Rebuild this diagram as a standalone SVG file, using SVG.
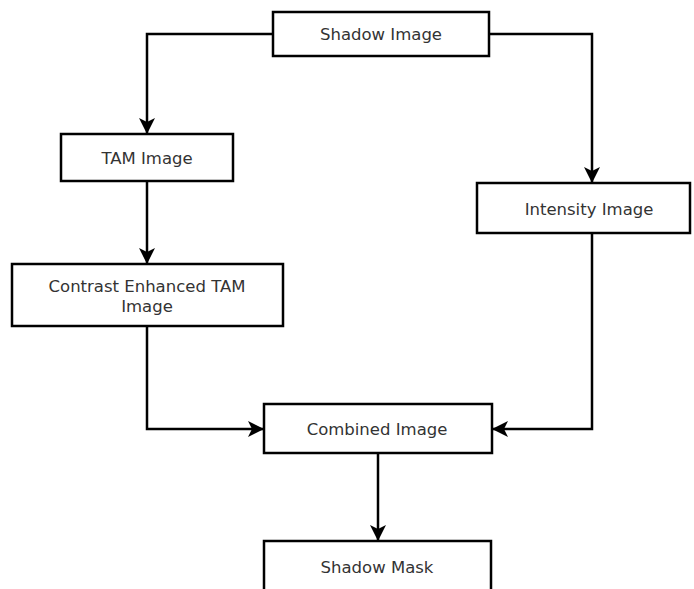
<svg xmlns="http://www.w3.org/2000/svg" width="694" height="589" viewBox="0 0 694 589">
  <defs>
    <style>
      .box { fill: #ffffff; stroke: #000000; stroke-width: 2.5; }
      .lbl { font-family: "DejaVu Sans", Verdana, sans-serif; font-size: 16.5px; fill: #333333; text-anchor: middle; }
      .conn { fill: none; stroke: #000000; stroke-width: 2.5; }
    </style>
    <marker id="arrow" markerUnits="userSpaceOnUse" markerWidth="18" markerHeight="16" refX="16" refY="8" orient="auto">
      <path d="M0,0 L16,8 L0,16 L4,8 Z" fill="#000000"/>
    </marker>
  </defs>
  <rect x="0" y="0" width="694" height="589" fill="#ffffff"/>

  <g id="connectors">
    <polyline class="conn" points="273,34 147,34 147,134" marker-end="url(#arrow)"/>
    <polyline class="conn" points="489,34 592,34 592,183" marker-end="url(#arrow)"/>
    <polyline class="conn" points="147,181 147,264" marker-end="url(#arrow)"/>
    <polyline class="conn" points="147,326 147,429 264,429" marker-end="url(#arrow)"/>
    <polyline class="conn" points="592,233 592,429 492,429" marker-end="url(#arrow)"/>
    <polyline class="conn" points="378,453 378,541" marker-end="url(#arrow)"/>
  </g>

  <g id="shadow-image">
    <rect class="box" x="273" y="12" width="216" height="44"/>
    <text class="lbl" x="381" y="40">Shadow Image</text>
  </g>
  <g id="tam-image">
    <rect class="box" x="61" y="134" width="172" height="47"/>
    <text class="lbl" x="147" y="164">TAM Image</text>
  </g>
  <g id="intensity-image">
    <rect class="box" x="477" y="183" width="213" height="50"/>
    <text class="lbl" x="589" y="215">Intensity Image</text>
  </g>
  <g id="contrast-enhanced">
    <rect class="box" x="12" y="264" width="271" height="62"/>
    <text class="lbl" x="147" y="292">Contrast Enhanced TAM</text>
    <text class="lbl" x="147" y="312">Image</text>
  </g>
  <g id="combined-image">
    <rect class="box" x="264" y="404" width="228" height="49"/>
    <text class="lbl" x="377" y="435">Combined Image</text>
  </g>
  <g id="shadow-mask">
    <rect class="box" x="264" y="541" width="227" height="60"/>
    <text class="lbl" x="377" y="573">Shadow Mask</text>
  </g>
</svg>
